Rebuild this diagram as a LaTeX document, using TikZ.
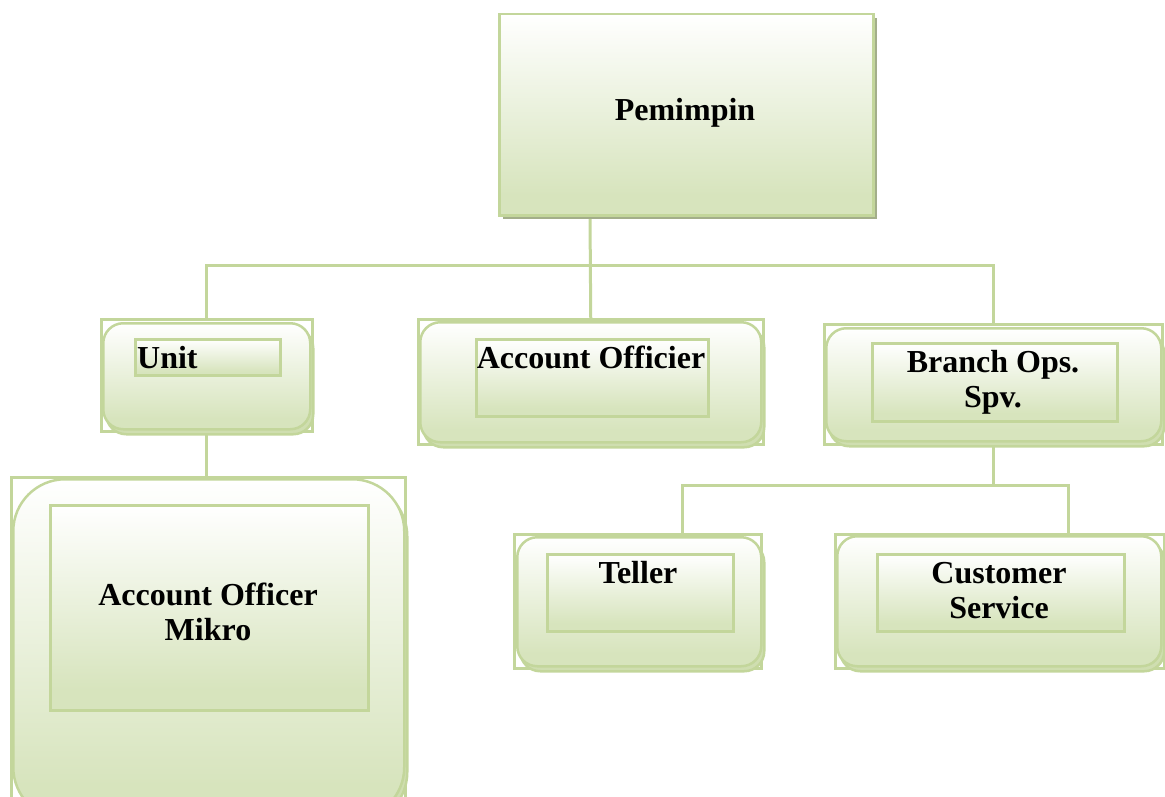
\documentclass[tikz,border=0pt]{standalone}
\usepackage{fontspec}
\setmainfont{Liberation Serif}
\usetikzlibrary{shapes,arrows,positioning,shadows,backgrounds}
\definecolor{hijau}{HTML}{C3D69B}
\definecolor{isi}{HTML}{D7E4BD}
\definecolor{bayang}{HTML}{A3AE8A}
\definecolor{bayangmuda}{HTML}{CFDEB0}
\pgfdeclareverticalshading{hijaumuda}{100bp}{color(0bp)=(isi); color(30bp)=(isi); color(75bp)=(white); color(100bp)=(white)}
\tikzstyle{bingkai} = [draw=hijau, line width=2.5pt, rectangle, inner sep=0pt, anchor=north west]
\tikzstyle{jabatan} = [draw=hijau, line width=2.5pt, shading=hijaumuda, rectangle, rounded corners=20pt, inner sep=0pt, anchor=north west, drop shadow={shadow xshift=3pt, shadow yshift=-5pt, opacity=1, fill=bayangmuda, draw=hijau, line width=2.5pt}]
\tikzstyle{kotak} = [draw=hijau, line width=2.5pt, shading=hijaumuda, rectangle, inner sep=0pt, anchor=north west]
\tikzstyle{teks} = [font=\bfseries\fontsize{32}{35}\selectfont, align=center, inner sep=0pt]
\tikzstyle{garis} = [draw=hijau, line width=3pt]

\begin{document}
\begin{tikzpicture}[x=1pt,y=-1pt]
	\useasboundingbox (0,0) rectangle (1165,797);
	% titik cabang garis
	\coordinate (atas) at (590,265);
	\coordinate (kiri) at (682,485);
	\coordinate (kanan) at (1068,485);

	% pemimpin
	\node [kotak, minimum width=374pt, minimum height=201pt, drop shadow={shadow xshift=4pt, shadow yshift=-4pt, opacity=1, fill=bayang}] (pemimpin) at (498,13) {};
	\node [teks] (tpemimpin) at (685,113) {Pemimpin};

	% unit
	\node [bingkai, minimum width=211pt, minimum height=112pt] (unit) at (100,318) {};
	\node [jabatan, minimum width=207pt, minimum height=106pt] (unitr) at (102,322) {};
	\node [kotak, minimum width=145pt, minimum height=36pt] (unitk) at (134,338) {};
	\node [teks, anchor=base west] (tunit) at (137,368) {Unit};

	% account officier
	\node [bingkai, minimum width=345pt, minimum height=125pt] (ao) at (417,318) {};
	\node [jabatan, minimum width=341pt, minimum height=120pt] (aor) at (419,321) {};
	\node [kotak, minimum width=232pt, minimum height=77pt] (aok) at (475,338) {};
	\node [teks, anchor=base] (tao) at (591,368) {Account Officier};

	% branch ops spv
	\node [bingkai, minimum width=338pt, minimum height=120pt] (bos) at (823,323) {};
	\node [jabatan, minimum width=335pt, minimum height=113pt] (bosr) at (825,327) {};
	\node [kotak, minimum width=245pt, minimum height=78pt] (bosk) at (871,342) {};
	\node [teks, anchor=base] (tbos) at (993,407) {Branch Ops.\\Spv.};

	% account officer mikro
	\node [bingkai, minimum width=394pt, minimum height=340pt] (aom) at (10,476) {};
	\node [jabatan, rounded corners=52pt, drop shadow={opacity=0}, minimum width=391pt, minimum height=340pt] (aomr) at (12,478) {};
	\node [kotak, minimum width=318pt, minimum height=205pt] (aomk) at (49,504) {};
	\node [teks, anchor=base] (taom) at (208,640) {Account Officer\\Mikro};

	% teller
	\node [bingkai, minimum width=247pt, minimum height=134pt] (teller) at (513,533) {};
	\node [jabatan, minimum width=244pt, minimum height=129pt] (tellerr) at (516,536) {};
	\node [kotak, minimum width=186pt, minimum height=77pt] (tellerk) at (546,553) {};
	\node [teks, anchor=base] (tteller) at (638,583) {Teller};

	% customer service
	\node [bingkai, minimum width=329pt, minimum height=134pt] (cs) at (834,533) {};
	\node [jabatan, minimum width=324pt, minimum height=130pt] (csr) at (836,535) {};
	\node [kotak, minimum width=247pt, minimum height=77pt] (csk) at (876,553) {};
	\node [teks, anchor=base] (tcs) at (999,618) {Customer\\Service};

	% garis
	\begin{scope}[on background layer]
	\draw [garis] (pemimpin.south -| atas) -- (ao.north);
	\draw [garis] (unit.north) -- (unit.north |- atas) -- (bos.north |- atas) -- (bos.north);
	\draw [garis] (unitr.south) -- (unitr.south |- aom.north);
	\draw [garis] (bosr.south) -- (bosr.south |- kiri);
	\draw [garis] (kiri |- teller.north) -- (kiri) -- (kanan) -- (kanan |- cs.north);
	\end{scope}
\end{tikzpicture}
\end{document}
